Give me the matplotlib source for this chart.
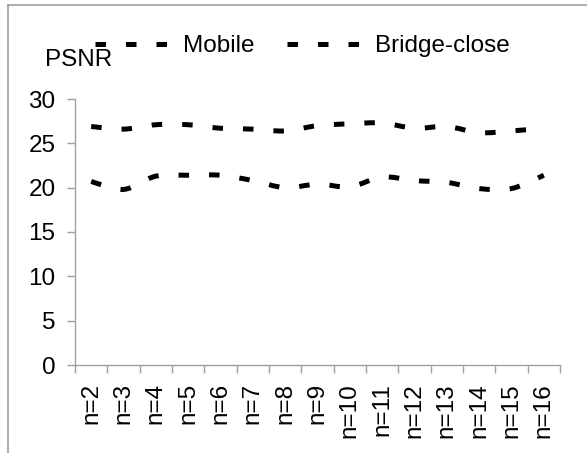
import matplotlib
matplotlib.use("Agg")
import matplotlib.pyplot as plt
from matplotlib.path import Path
from matplotlib.patches import PathPatch
from matplotlib.lines import Line2D

plt.rcParams['font.family'] = ['Liberation Sans', 'DejaVu Sans']

categories = ["n=2", "n=3", "n=4", "n=5", "n=6", "n=7", "n=8", "n=9",
              "n=10", "n=11", "n=12", "n=13", "n=14", "n=15", "n=16"]
mobile = [20.7, 19.8, 21.3, 21.4, 21.4, 20.8, 20.0, 20.4,
          20.1, 21.2, 20.8, 20.6, 19.9, 19.9, 21.4]
bridge_close = [26.9, 26.6, 27.1, 27.1, 26.7, 26.6, 26.4, 27.0,
                27.2, 27.3, 26.7, 26.9, 26.2, 26.4, 26.7]
yticks = [0, 5, 10, 15, 20, 25, 30]

GRAY = "#A0A0A0"
LW = 3.6
DASH = (0, (2.1, 4.0))
FS = 17.5


def smooth_path(ys):
    # Excel-like smoothed line: cubic bezier through every point
    xs = list(range(len(ys)))
    n = len(xs)
    verts = [(xs[0], ys[0])]
    codes = [Path.MOVETO]
    for i in range(n - 1):
        a = i - 1 if i > 0 else i
        b = i + 2 if i + 2 < n else i + 1
        c1 = (xs[i] + (xs[i + 1] - xs[a]) / 6, ys[i] + (ys[i + 1] - ys[a]) / 6)
        c2 = (xs[i + 1] - (xs[b] - xs[i]) / 6, ys[i + 1] - (ys[b] - ys[i]) / 6)
        verts += [c1, c2, (xs[i + 1], ys[i + 1])]
        codes += [Path.CURVE4] * 3
    return Path(verts, codes)


fig = plt.figure(figsize=(5.87, 4.53), dpi=100)
ax = fig.add_axes([75 / 587, 1 - 365 / 453, (560 - 75) / 587, (365 - 99) / 453])

for series in (mobile, bridge_close):
    ax.add_patch(PathPatch(smooth_path(series), fill=False, edgecolor="black",
                           linewidth=LW, linestyle=DASH, capstyle="butt"))

ax.set_xlim(-0.5, len(categories) - 0.5)
ax.set_ylim(0, 30)
ax.set_yticks(yticks)
ax.set_xticks(range(len(categories)))
ax.set_xticklabels(categories, rotation=90, fontsize=FS)
ax.set_xticks([i - 0.5 for i in range(len(categories) + 1)], minor=True)
ax.tick_params(axis="x", which="major", length=0, pad=13)
ax.tick_params(axis="x", which="minor", length=6, color=GRAY, width=1)
ax.tick_params(axis="y", length=6, color=GRAY, width=1, pad=8, labelsize=FS)

for s in ("top", "right"):
    ax.spines[s].set_visible(False)
for s in ("left", "bottom"):
    ax.spines[s].set_color(GRAY)
    ax.spines[s].set_linewidth(1)

fig.text(45 / 587, 1 - 66 / 453, "PSNR", fontsize=FS, va="baseline", ha="left")

handles = [Line2D([], [], color="black", linewidth=LW, linestyle=DASH),
           Line2D([], [], color="black", linewidth=LW, linestyle=DASH)]
fig.legend(handles, ["Mobile", "Bridge-close"], loc="center left",
           bbox_to_anchor=(95 / 587, 1 - 46 / 453), ncol=2, frameon=False,
           fontsize=FS, handlelength=3.0, handletextpad=0.62,
           columnspacing=1.35, borderpad=0, borderaxespad=0)

# outer chart border (only left and top visible in the crop)
fig.add_artist(Line2D([8 / 587, 8 / 587], [0, 1 - 5 / 453],
                      transform=fig.transFigure, color=GRAY, linewidth=1.2))
fig.add_artist(Line2D([8 / 587, 1], [1 - 5 / 453, 1 - 5 / 453],
                      transform=fig.transFigure, color=GRAY, linewidth=1.2))

fig.savefig("out.png", dpi=100)
